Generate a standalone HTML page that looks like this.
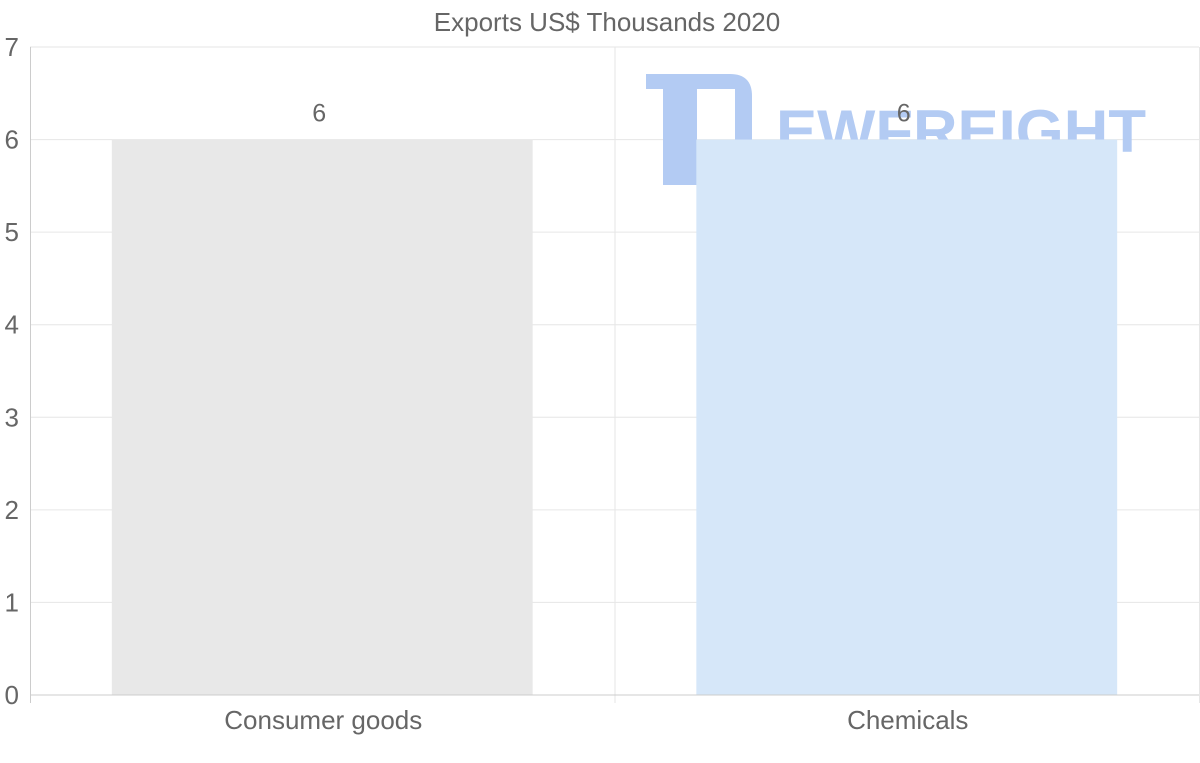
<!DOCTYPE html>
<html><head><meta charset="utf-8"><style>
body{margin:0;background:#fff;font-family:"Liberation Sans",Arial,sans-serif;}
svg{display:block}
</style></head><body>
<svg id="chart" width="1200" height="763" xmlns="http://www.w3.org/2000/svg">
<text x="607" y="31" text-anchor="middle" font-size="26" fill="#666">Exports US$ Thousands 2020</text>
<g id="grid"></g>
<g id="watermark" fill="#b3cbf3">
<path d="M646 89 L646 74 L730 74 Q752 74 752 96 L752 140 L735 140 L735 89 Z"/>
<rect x="663" y="89" width="34" height="96"/>
<text x="776" y="152" font-size="60" font-weight="bold" fill="#b3cbf3" textLength="370" lengthAdjust="spacingAndGlyphs">EWFREIGHT</text>
</g>
<g id="bars"></g>
<g id="axes"></g>
</svg>
<script>
const categories = ["Consumer goods", "Chemicals"];
const values = [6, 6];
const yTicks = [0, 1, 2, 3, 4, 5, 6, 7];
const colors = ["#e8e8e8", "#d6e7f9"];

const L = 30, R = 1199, T = 47, B = 695, yMax = 7;
const NS = "http://www.w3.org/2000/svg";
const y = v => B - (v / yMax) * (B - T);
const bw = (R - L) / categories.length;
const x = i => L + bw * i;
function mk(tag, attrs, parent, text) {
  const e = document.createElementNS(NS, tag);
  for (const k in attrs) e.setAttribute(k, attrs[k]);
  if (text !== undefined) e.textContent = text;
  parent.appendChild(e); return e;
}
const grid = document.getElementById('grid'), bars = document.getElementById('bars'), axes = document.getElementById('axes');
yTicks.forEach(t => {
  const l = mk('line', {x1: L, x2: R, y1: y(t), y2: y(t), stroke: t === 0 ? '#ccc' : '#e6e6e6', 'stroke-width': 1}, t === 0 ? axes : grid);
  
  
  const tx = mk('text', {x: 19, y: y(t) + 9, 'text-anchor': 'end', 'font-size': 26, fill: '#666'}, axes, String(t));
  
  
});
for (let i = 0; i <= categories.length; i++) {
  const gx = Math.min(x(i), R) + 0.5;
  const l = mk('line', {x1: gx, x2: gx, y1: T, y2: B + 8, stroke: i === 0 ? '#ccc' : '#e6e6e6'}, grid);
  
  
}
categories.forEach((c, i) => {
  const w = bw * 0.72, bx = x(i) + (bw - w) / 2;
  const r = mk('rect', {x: bx, y: y(values[i]), width: w, height: B - y(values[i]), fill: colors[i]}, bars);
  
  
  const v = mk('text', {x: x(i) + bw / 2 - 3, y: y(values[i]) - 18, 'text-anchor': 'middle', 'font-size': 25, fill: '#666'}, bars, String(values[i]));
  
  
  const cl = mk('text', {x: x(i) + bw / 2 + 1, y: 729, 'text-anchor': 'middle', 'font-size': 26, fill: '#666'}, axes, c);
  
  
});
</script>
</body></html>
